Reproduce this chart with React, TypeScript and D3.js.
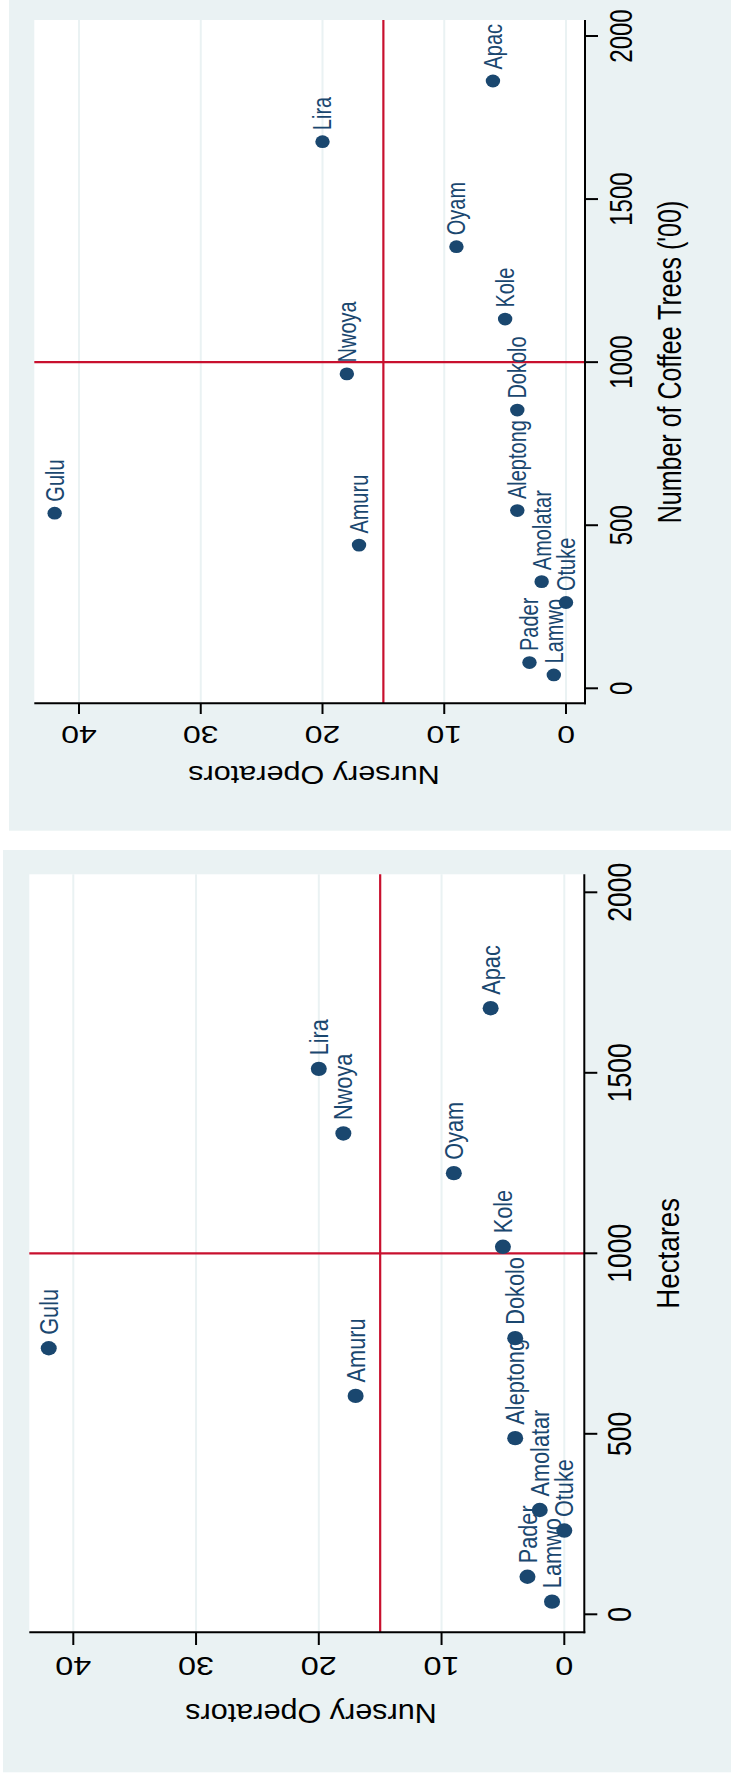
import React from "react";
import * as d3 from "d3";

// District-level nursery operators, coffee trees and hectares
const districts = ["Apac", "Lira", "Oyam", "Kole", "Nwoya", "Dokolo", "Gulu", "Amuru", "Aleptong", "Amolatar", "Otuke", "Pader", "Lamwo"];
const nurseryOperators = [6, 20, 9, 5, 18, 4, 42, 17, 4, 2, 0, 3, 1];
const coffeeTrees = [1862, 1676, 1354, 1132, 964, 853, 537, 439, 545, 327, 263, 79, 41];
const hectares = [1679, 1511, 1222, 1018, 1332, 765, 737, 605, 488, 289, 232, 104, 35];

const nurseryTicks = [0, 10, 20, 30, 40];
const valueTicks = [0, 500, 1000, 1500, 2000];
const nurseryRef = 15;
const valueRef = 1000;

const BG = "#eaf2f3";
const NAVY = "#1a476f";
const RED = "#c8102e";
const FONT = "'Liberation Sans', Arial, Helvetica, sans-serif";

type Em = { x: number; y: number };

type PanelLayout = {
  bg: [number, number, number, number];
  plot: [number, number, number, number];
  xRange: [number, number];
  yRange: [number, number];
  rightTickEnd: number;
  bottomTickEnd: number;
  rightLabelBase: number;
  bottomLabelBase: number;
  xTitlePos: [number, number];
  yTitlePos: [number, number];
  tickEm: Em;
  xTitleEm: Em;
  yTitleEm: Em;
  labelEm: Em;
  labelGap: number;
  marker: [number, number];
};

// Rotated text: "along" is the reading direction, "across" the glyph height
function RText(props: {
  x: number;
  y: number;
  angle: number;
  along: number;
  across: number;
  anchor: "start" | "middle" | "end";
  fill: string;
  children: React.ReactNode;
}) {
  const { x, y, angle, along, across, anchor, fill, children } = props;
  return (
    <text
      transform={`translate(${x},${y}) rotate(${angle}) scale(1,${across / along})`}
      fontSize={along}
      fontFamily={FONT}
      textAnchor={anchor}
      fill={fill}
    >
      {children}
    </text>
  );
}

function Panel(props: { values: number[]; yTitle: string; L: PanelLayout }) {
  const { values, yTitle, L } = props;
  const [px0, py0, px1, py1] = L.plot;
  const x = d3.scaleLinear().domain([0, 40]).range(L.xRange);
  const y = d3.scaleLinear().domain([0, 2000]).range(L.yRange);

  return (
    <g>
      <rect x={L.bg[0]} y={L.bg[1]} width={L.bg[2] - L.bg[0]} height={L.bg[3] - L.bg[1]} fill={BG} />
      <rect x={px0} y={py0} width={px1 - px0} height={py1 - py0} fill="#ffffff" />

      {/* grid along the nursery-operator axis */}
      {nurseryTicks.map((t) => (
        <line key={"g" + t} x1={x(t)} x2={x(t)} y1={py0} y2={py1} stroke={BG} strokeWidth={2} />
      ))}

      {/* reference lines */}
      <line x1={x(nurseryRef)} x2={x(nurseryRef)} y1={py0} y2={py1} stroke={RED} strokeWidth={2.2} />
      <line x1={px0} x2={px1} y1={y(valueRef)} y2={y(valueRef)} stroke={RED} strokeWidth={2.2} />

      {/* markers */}
      {values.map((v, i) => (
        <ellipse key={"m" + i} cx={x(nurseryOperators[i])} cy={y(v)} rx={L.marker[0]} ry={L.marker[1]} fill={NAVY} />
      ))}

      {/* marker labels */}
      {values.map((v, i) => (
        <RText
          key={"l" + i}
          x={x(nurseryOperators[i]) + (0.716 * L.labelEm.x) / 2}
          y={y(v) - L.labelGap}
          angle={-90}
          along={L.labelEm.y}
          across={L.labelEm.x}
          anchor="start"
          fill={NAVY}
        >
          {districts[i]}
        </RText>
      ))}

      {/* axes */}
      <line x1={px1} x2={px1} y1={py0} y2={py1 + 1} stroke="#000" strokeWidth={2} />
      <line x1={px0} x2={px1 + 1} y1={py1} y2={py1} stroke="#000" strokeWidth={2} />

      {nurseryTicks.map((t) => (
        <g key={"bt" + t}>
          <line x1={x(t)} x2={x(t)} y1={py1} y2={L.bottomTickEnd} stroke="#000" strokeWidth={2} />
          <RText x={x(t)} y={L.bottomLabelBase} angle={180} along={L.tickEm.x} across={L.tickEm.y} anchor="middle" fill="#000">
            {t}
          </RText>
        </g>
      ))}

      {valueTicks.map((t) => (
        <g key={"rt" + t}>
          <line x1={px1} x2={L.rightTickEnd} y1={y(t)} y2={y(t)} stroke="#000" strokeWidth={2} />
          <RText x={L.rightLabelBase} y={y(t)} angle={-90} along={L.tickEm.y} across={L.tickEm.x} anchor="middle" fill="#000">
            {t}
          </RText>
        </g>
      ))}

      <RText x={L.xTitlePos[0]} y={L.xTitlePos[1]} angle={180} along={L.xTitleEm.x} across={L.xTitleEm.y} anchor="middle" fill="#000">
        Nursery Operators
      </RText>
      <RText x={L.yTitlePos[0]} y={L.yTitlePos[1]} angle={-90} along={L.yTitleEm.y} across={L.yTitleEm.x} anchor="middle" fill="#000">
        {yTitle}
      </RText>
    </g>
  );
}

const topLayout: PanelLayout = {
  bg: [9, 0, 731, 830.7],
  plot: [34.3, 20, 585, 703.3],
  xRange: [566, 79],
  yRange: [688.3, 36],
  rightTickEnd: 598,
  bottomTickEnd: 714,
  rightLabelBase: 632,
  bottomLabelBase: 725.5,
  xTitlePos: [314, 766],
  yTitlePos: [680.5, 362],
  tickEm: { x: 32, y: 24 },
  xTitleEm: { x: 30.6, y: 25.5 },
  yTitleEm: { x: 33, y: 25 },
  labelEm: { x: 25, y: 20 },
  labelGap: 11.5,
  marker: [7.2, 6.4],
};

const bottomLayout: PanelLayout = {
  bg: [3, 850, 731, 1772.3],
  plot: [29.3, 874.3, 584.3, 1632.3],
  xRange: [564.3, 73.3],
  yRange: [1614.3, 892.3],
  rightTickEnd: 597.3,
  bottomTickEnd: 1645,
  rightLabelBase: 631,
  bottomLabelBase: 1656.7,
  xTitlePos: [311, 1704],
  yTitlePos: [679.3, 1253.3],
  tickEm: { x: 32.4, y: 26.6 },
  xTitleEm: { x: 30.6, y: 28.5 },
  yTitleEm: { x: 31.7, y: 27.7 },
  labelEm: { x: 25.5, y: 21.7 },
  labelGap: 13.5,
  marker: [8, 7.2],
};

export default function App() {
  return (
    <div style={{ position: "absolute", left: 0, top: 0, width: 731, height: 1778, background: "#fff" }}>
      <svg width={731} height={1778} viewBox="0 0 731 1778" style={{ display: "block" }}>
        <rect x={0} y={0} width={731} height={1778} fill="#fff" />
        <Panel values={coffeeTrees} yTitle="Number of Coffee Trees ('00)" L={topLayout} />
        <Panel values={hectares} yTitle="Hectares" L={bottomLayout} />
      </svg>
    </div>
  );
}
